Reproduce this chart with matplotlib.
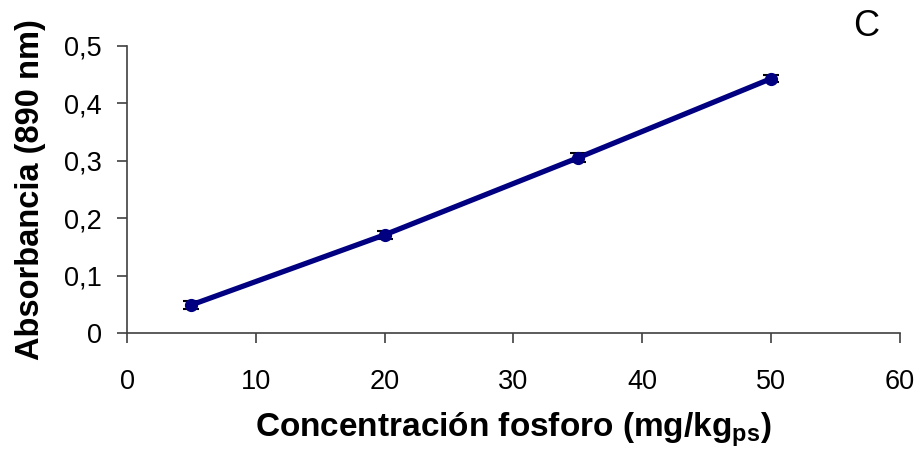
import matplotlib
matplotlib.use("Agg")
import matplotlib.pyplot as plt

# datos
concentracion = [5, 20, 35, 50]
absorbancia = [0.049, 0.171, 0.305, 0.443]
error = [0.007, 0.007, 0.008, 0.006]

x_ticks = [0, 10, 20, 30, 40, 50, 60]
y_ticks = [0, 0.1, 0.2, 0.3, 0.4, 0.5]
y_labels = ["0", "0,1", "0,2", "0,3", "0,4", "0,5"]

plt.rcParams["font.family"] = ["Liberation Sans", "DejaVu Sans"]
plt.rcParams["mathtext.fontset"] = "custom"
plt.rcParams["mathtext.bf"] = "Liberation Sans:bold"
plt.rcParams["mathtext.rm"] = "Liberation Sans"

fig = plt.figure(figsize=(9.21, 4.5), dpi=100)
ax = fig.add_axes([0.138, 0.26, 0.839, 0.638])

ax.errorbar(concentracion, absorbancia, yerr=error, color="#000080",
            linewidth=3.8, marker="o", markersize=8.5, ecolor="black",
            elinewidth=1.5, capsize=6, capthick=1.5, zorder=3)

ax.set_xlim(0, 60)
ax.set_ylim(0, 0.5)
ax.set_xticks(x_ticks)
ax.set_yticks(y_ticks)
ax.set_yticklabels(y_labels)
ax.tick_params(labelsize=19.5, direction="out", length=7, color="#404040", width=1.2)
ax.tick_params(axis="y", pad=11)
ax.tick_params(axis="x", pad=19)

ax.spines["top"].set_visible(False)
ax.spines["right"].set_visible(False)
ax.spines["left"].set_color("#404040")
ax.spines["bottom"].set_color("#404040")
ax.spines["left"].set_linewidth(1.2)
ax.spines["bottom"].set_linewidth(1.2)

ax.set_xlabel(r"Concentración fosforo (mg/kg$_{\mathbf{ps}}$)", fontsize=24,
              fontweight="bold", labelpad=11)
ax.set_ylabel("Absorbancia (890 nm)", fontsize=23.5, fontweight="bold", labelpad=13)

fig.text(0.94, 0.942, "C", fontsize=26, ha="center", va="center")

fig.savefig("out.png", dpi=100)
